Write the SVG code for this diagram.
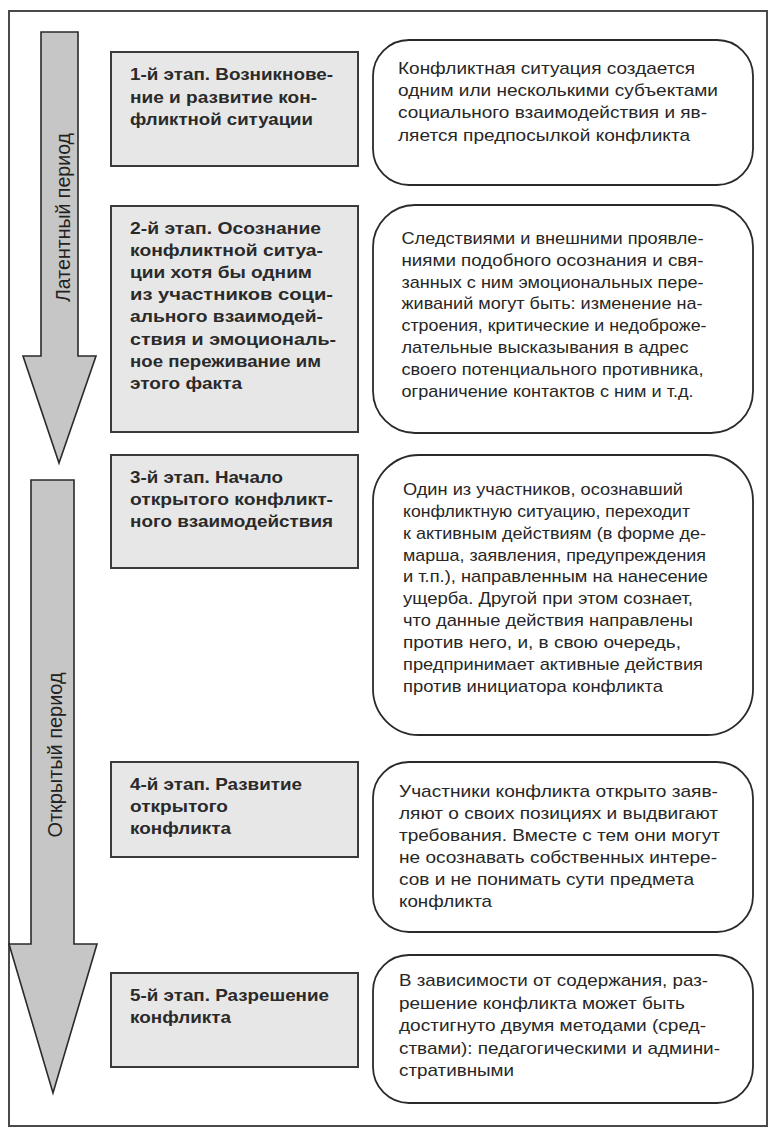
<svg xmlns="http://www.w3.org/2000/svg" width="772" height="1140" viewBox="0 0 772 1140">
<style>
.frame{fill:#ffffff;stroke:#4a4a4a;stroke-width:2}
.arrow{fill:#c6c6c6;stroke:#2a2a2a;stroke-width:1.6;stroke-linejoin:miter}
.stage{fill:#e7e7e7;stroke:#3a3a3a;stroke-width:2}
.desc{fill:#ffffff;stroke:#2a2a2a;stroke-width:1.8}
.t{font-family:"Liberation Sans",Arial,sans-serif;font-size:17px;fill:#262626}
.b{font-family:"Liberation Sans",Arial,sans-serif;font-size:17px;font-weight:bold;fill:#2a2a2a}
.a{font-family:"Liberation Sans",Arial,sans-serif;font-size:20px;fill:#222222}
</style>
<rect class="frame" x="9" y="11" width="758" height="1115"/>
<g id="connectors">
  <g id="arrow-latent">
    <polygon class="arrow" points="41,32 78,32 78,356 96,356 59,463 23,356 41,356"/>
    <text class="a" transform="translate(69.5,217.5) rotate(-90)" text-anchor="middle" textLength="169" lengthAdjust="spacingAndGlyphs">Латентный период</text>
  </g>
  <g id="arrow-open">
    <polygon class="arrow" points="31,480 74,480 74,944 97,944 53,1093 9,944 31,944"/>
    <text class="a" transform="translate(61.5,755) rotate(-90)" text-anchor="middle" textLength="165" lengthAdjust="spacingAndGlyphs">Открытый период</text>
  </g>
</g>
<g id="stage1">
  <rect class="stage" x="111" y="52" width="247" height="114"/>
  <text class="b" x="130" y="80" textLength="203" lengthAdjust="spacingAndGlyphs">1-й этап. Возникнове-</text>
  <text class="b" x="130" y="102.5" textLength="187" lengthAdjust="spacingAndGlyphs">ние и развитие кон-</text>
  <text class="b" x="130" y="125" textLength="183" lengthAdjust="spacingAndGlyphs">фликтной ситуации</text>
</g>
<g id="stage2">
  <rect class="stage" x="111" y="206" width="247" height="226"/>
  <text class="b" x="130" y="234" textLength="191" lengthAdjust="spacingAndGlyphs">2-й этап. Осознание</text>
  <text class="b" x="130" y="256.1" textLength="193" lengthAdjust="spacingAndGlyphs">конфликтной ситуа-</text>
  <text class="b" x="130" y="278.2" textLength="182" lengthAdjust="spacingAndGlyphs">ции хотя бы одним</text>
  <text class="b" x="130" y="300.3" textLength="203" lengthAdjust="spacingAndGlyphs">из участников соци-</text>
  <text class="b" x="130" y="322.4" textLength="193" lengthAdjust="spacingAndGlyphs">ального взаимодей-</text>
  <text class="b" x="130" y="344.5" textLength="206" lengthAdjust="spacingAndGlyphs">ствия и эмоциональ-</text>
  <text class="b" x="130" y="366.6" textLength="191" lengthAdjust="spacingAndGlyphs">ное переживание им</text>
  <text class="b" x="130" y="388.7" textLength="112" lengthAdjust="spacingAndGlyphs">этого факта</text>
</g>
<g id="stage3">
  <rect class="stage" x="111" y="455" width="247" height="113"/>
  <text class="b" x="130" y="483" textLength="153" lengthAdjust="spacingAndGlyphs">3-й этап. Начало</text>
  <text class="b" x="130" y="505.2" textLength="203" lengthAdjust="spacingAndGlyphs">открытого конфликт-</text>
  <text class="b" x="130" y="527.4" textLength="203" lengthAdjust="spacingAndGlyphs">ного взаимодействия</text>
</g>
<g id="stage4">
  <rect class="stage" x="111" y="762" width="247" height="95"/>
  <text class="b" x="130" y="790" textLength="172" lengthAdjust="spacingAndGlyphs">4-й этап. Развитие</text>
  <text class="b" x="130" y="812.2" textLength="98" lengthAdjust="spacingAndGlyphs">открытого</text>
  <text class="b" x="130" y="834.4" textLength="101" lengthAdjust="spacingAndGlyphs">конфликта</text>
</g>
<g id="stage5">
  <rect class="stage" x="111" y="973" width="247" height="94"/>
  <text class="b" x="130" y="1001" textLength="199" lengthAdjust="spacingAndGlyphs">5-й этап. Разрешение</text>
  <text class="b" x="130" y="1023.2" textLength="101" lengthAdjust="spacingAndGlyphs">конфликта</text>
</g>
<g id="desc1">
  <rect class="desc" x="373" y="40" width="380" height="145" rx="36" ry="36"/>
  <text class="t" x="398" y="74" textLength="297" lengthAdjust="spacingAndGlyphs">Конфликтная ситуация создается</text>
  <text class="t" x="398" y="96.2" textLength="320" lengthAdjust="spacingAndGlyphs">одним или несколькими субъектами</text>
  <text class="t" x="398" y="118.4" textLength="309" lengthAdjust="spacingAndGlyphs">социального взаимодействия и яв-</text>
  <text class="t" x="398" y="140.6" textLength="292" lengthAdjust="spacingAndGlyphs">ляется предпосылкой конфликта</text>
</g>
<g id="desc2">
  <rect class="desc" x="373" y="205" width="380" height="228" rx="42" ry="42"/>
  <text class="t" x="401.5" y="244" textLength="302" lengthAdjust="spacingAndGlyphs">Следствиями и внешними проявле-</text>
  <text class="t" x="401.5" y="265.8" textLength="302" lengthAdjust="spacingAndGlyphs">ниями подобного осознания и свя-</text>
  <text class="t" x="401.5" y="287.6" textLength="302" lengthAdjust="spacingAndGlyphs">занных с ним эмоциональных пере-</text>
  <text class="t" x="401.5" y="309.4" textLength="301" lengthAdjust="spacingAndGlyphs">живаний могут быть: изменение на-</text>
  <text class="t" x="401.5" y="331.2" textLength="305" lengthAdjust="spacingAndGlyphs">строения, критические и недоброже-</text>
  <text class="t" x="401.5" y="353" textLength="287" lengthAdjust="spacingAndGlyphs">лательные высказывания в адрес</text>
  <text class="t" x="401.5" y="374.8" textLength="302" lengthAdjust="spacingAndGlyphs">своего потенциального противника,</text>
  <text class="t" x="401.5" y="396.6" textLength="292" lengthAdjust="spacingAndGlyphs">ограничение контактов с ним и т.д.</text>
</g>
<g id="desc3">
  <rect class="desc" x="373" y="455" width="380" height="280" rx="46" ry="46"/>
  <text class="t" x="403" y="495" textLength="280" lengthAdjust="spacingAndGlyphs">Один из участников, осознавший</text>
  <text class="t" x="403" y="516.85" textLength="287" lengthAdjust="spacingAndGlyphs">конфликтную ситуацию, переходит</text>
  <text class="t" x="403" y="538.7" textLength="303" lengthAdjust="spacingAndGlyphs">к активным действиям (в форме де-</text>
  <text class="t" x="403" y="560.55" textLength="303" lengthAdjust="spacingAndGlyphs">марша, заявления, предупреждения</text>
  <text class="t" x="403" y="582.4" textLength="305" lengthAdjust="spacingAndGlyphs">и т.п.), направленным на нанесение</text>
  <text class="t" x="403" y="604.25" textLength="290" lengthAdjust="spacingAndGlyphs">ущерба. Другой при этом сознает,</text>
  <text class="t" x="403" y="626.1" textLength="290" lengthAdjust="spacingAndGlyphs">что данные действия направлены</text>
  <text class="t" x="403" y="647.95" textLength="278" lengthAdjust="spacingAndGlyphs">против него, и, в свою очередь,</text>
  <text class="t" x="403" y="669.8" textLength="300" lengthAdjust="spacingAndGlyphs">предпринимает активные действия</text>
  <text class="t" x="403" y="691.65" textLength="260" lengthAdjust="spacingAndGlyphs">против инициатора конфликта</text>
</g>
<g id="desc4">
  <rect class="desc" x="373" y="762" width="380" height="170" rx="36" ry="36"/>
  <text class="t" x="399" y="796.5" textLength="319" lengthAdjust="spacingAndGlyphs">Участники конфликта открыто заяв-</text>
  <text class="t" x="399" y="818.5" textLength="319" lengthAdjust="spacingAndGlyphs">ляют о своих позициях и выдвигают</text>
  <text class="t" x="399" y="840.5" textLength="321" lengthAdjust="spacingAndGlyphs">требования. Вместе с тем они могут</text>
  <text class="t" x="399" y="862.5" textLength="318" lengthAdjust="spacingAndGlyphs">не осознавать собственных интере-</text>
  <text class="t" x="399" y="884.5" textLength="295" lengthAdjust="spacingAndGlyphs">сов и не понимать сути предмета</text>
  <text class="t" x="399" y="906.5" textLength="93" lengthAdjust="spacingAndGlyphs">конфликта</text>
</g>
<g id="desc5">
  <rect class="desc" x="373" y="955" width="380" height="148" rx="36" ry="36"/>
  <text class="t" x="399" y="986" textLength="309" lengthAdjust="spacingAndGlyphs">В зависимости от содержания, раз-</text>
  <text class="t" x="399" y="1008.5" textLength="286" lengthAdjust="spacingAndGlyphs">решение конфликта может быть</text>
  <text class="t" x="399" y="1031" textLength="307" lengthAdjust="spacingAndGlyphs">достигнуто двумя методами (сред-</text>
  <text class="t" x="399" y="1053.5" textLength="321" lengthAdjust="spacingAndGlyphs">ствами): педагогическими и админи-</text>
  <text class="t" x="399" y="1076" textLength="115" lengthAdjust="spacingAndGlyphs">стративными</text>
</g>
</svg>
